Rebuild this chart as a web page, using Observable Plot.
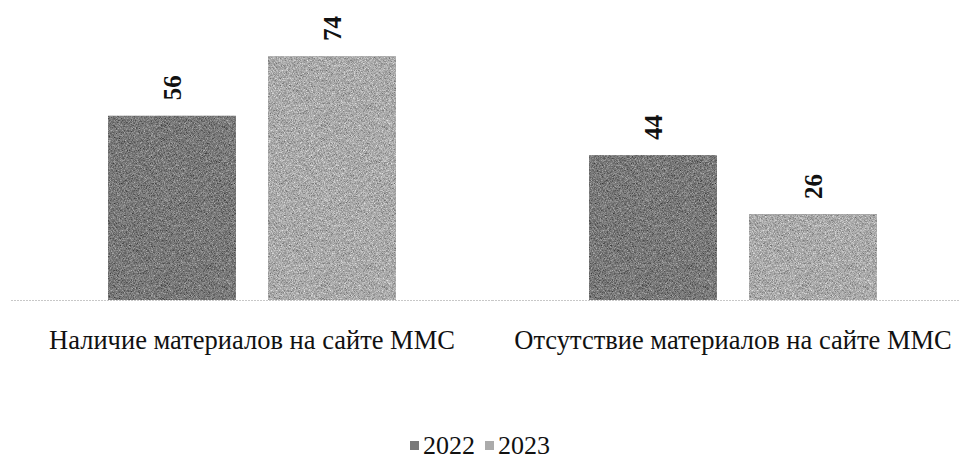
<!DOCTYPE html>
<html>
<head>
<meta charset="utf-8">
<script src="https://cdn.jsdelivr.net/npm/d3@7"></script>
<script src="https://cdn.jsdelivr.net/npm/@observablehq/plot@0.6"></script>
<style>
  html, body { margin: 0; padding: 0; background: #fff; }
  #chart { width: 960px; height: 462px; position: relative; overflow: hidden; }
  #legend { position: absolute; left: 0; top: 427px; width: 960px; text-align: center;
    font-family: "Liberation Serif", "Times New Roman", serif; font-size: 26px; color: #111; }
  #legend .item { display: inline-flex; align-items: center; margin: 0 5px; }
  #legend .sw { width: 9px; height: 9px; display: inline-block; margin-right: 4px; }
</style>
</head>
<body>
<div id="chart"></div>
<script>
const categories = ["Наличие материалов на сайте ММС", "Отсутствие материалов на сайте ММС"];
const years = ["2022", "2023"];
const values2022 = [56, 44];
const values2023 = [74, 26];
const colors = ["#7a7a7a", "#ababab"];

const data = [];
categories.forEach((c, i) => {
  data.push({category: c, year: years[0], value: values2022[i]});
  data.push({category: c, year: years[1], value: values2023[i]});
});

const serif = '"Liberation Serif", "Times New Roman", serif';

const plot = Plot.plot({
  width: 960,
  height: 400,
  marginTop: 0,
  marginBottom: 100,
  marginLeft: 10,
  marginRight: -13,
  style: {fontFamily: serif, background: "white"},
  fx: {domain: categories, paddingInner: 0, paddingOuter: 0, label: null},
  x: {domain: years, paddingInner: 0.2, paddingOuter: 0.6, axis: null},
  y: {domain: [0, 91.2], axis: null},
  color: {domain: years, range: colors},
  marks: [
    Plot.ruleY([0], {stroke: "#c8c8c8", strokeWidth: 1, strokeDasharray: "2,1"}),
    Plot.barY(data, {fx: "category", x: "year", y: "value", fill: "year", className: "grainbar"}),
    Plot.text(data, {
      fx: "category", x: "year", y: "value", text: d => String(d.value),
      rotate: -90, textAnchor: "start", lineAnchor: "middle", dy: -16,
      fontSize: 25, fontWeight: "bold", fill: "#111", fontFamily: serif
    }),
    Plot.axisFx({anchor: "bottom", tickSize: 0, tickPadding: 30, fontSize: 26.5, label: null, fill: "#111", fontFamily: serif})
  ]
});

// grain texture filter for bars
const svg = d3.select(plot.tagName.toLowerCase() === "svg" ? plot : plot.querySelector("svg"));
const defs = svg.insert("defs", ":first-child");
const f = defs.append("filter").attr("id", "grain")
  .attr("x", 0).attr("y", 0).attr("width", "100%").attr("height", "100%")
  .attr("color-interpolation-filters", "sRGB");
f.append("feTurbulence").attr("type", "fractalNoise").attr("baseFrequency", 1.6)
  .attr("numOctaves", 1).attr("seed", 4).attr("result", "noise");
f.append("feColorMatrix").attr("in", "noise").attr("type", "matrix")
  .attr("values", "0.33 0.33 0.33 0 0  0.33 0.33 0.33 0 0  0.33 0.33 0.33 0 0  0 0 0 0 1")
  .attr("result", "gray");
f.append("feComposite").attr("in", "SourceGraphic").attr("in2", "gray")
  .attr("operator", "arithmetic").attr("k1", 0).attr("k2", 1).attr("k3", 1.2).attr("k4", -0.6)
  .attr("result", "mix");
f.append("feComposite").attr("in", "mix").attr("in2", "SourceGraphic").attr("operator", "in");
svg.selectAll(".grainbar rect").attr("filter", "url(#grain)");

document.getElementById("chart").appendChild(plot);

const legend = document.createElement("div");
legend.id = "legend";
years.forEach((y, i) => {
  const item = document.createElement("span");
  item.className = "item";
  const sw = document.createElement("span");
  sw.className = "sw";
  sw.style.background = colors[i];
  item.appendChild(sw);
  item.appendChild(document.createTextNode(y));
  legend.appendChild(item);
});
document.getElementById("chart").appendChild(legend);
</script>
</body>
</html>
